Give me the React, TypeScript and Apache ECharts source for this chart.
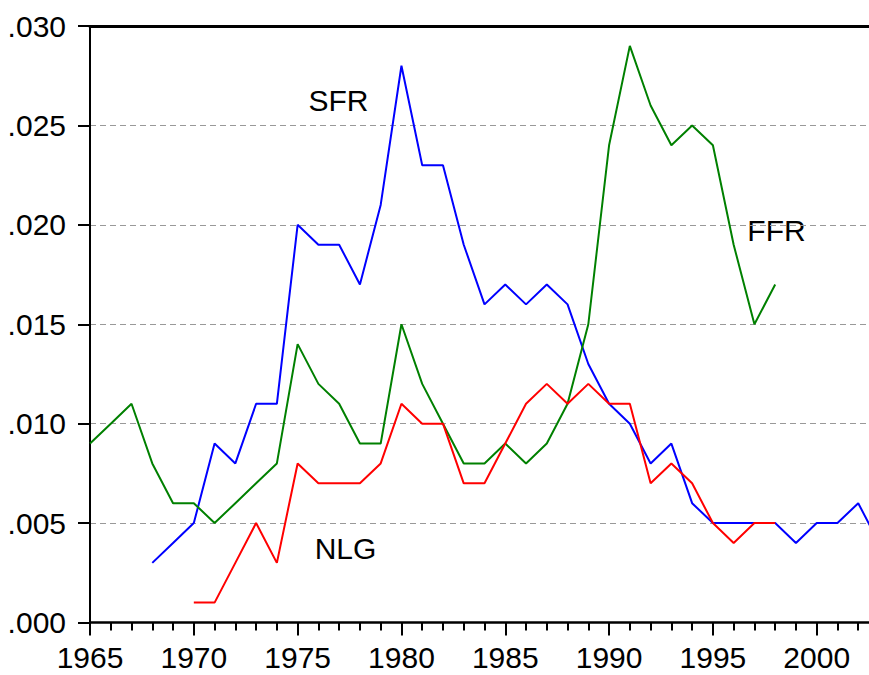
import React, { useEffect, useRef } from "react";
import * as echarts from "echarts";

const sfrStart = 1968;
const sfrValues = [0.003, 0.004, 0.005, 0.009, 0.008, 0.011, 0.011, 0.020, 0.019, 0.019, 0.017, 0.021, 0.028, 0.023, 0.023, 0.019, 0.016, 0.017, 0.016, 0.017, 0.016, 0.013, 0.011, 0.010, 0.008, 0.009, 0.006, 0.005, 0.005, 0.005, 0.005, 0.004, 0.005, 0.005, 0.006, 0.004];
const ffrStart = 1965;
const ffrValues = [0.009, 0.010, 0.011, 0.008, 0.006, 0.006, 0.005, 0.006, 0.007, 0.008, 0.014, 0.012, 0.011, 0.009, 0.009, 0.015, 0.012, 0.010, 0.008, 0.008, 0.009, 0.008, 0.009, 0.011, 0.015, 0.024, 0.029, 0.026, 0.024, 0.025, 0.024, 0.019, 0.015, 0.017];
const nlgStart = 1970;
const nlgValues = [0.001, 0.001, 0.003, 0.005, 0.003, 0.008, 0.007, 0.007, 0.007, 0.008, 0.011, 0.010, 0.010, 0.007, 0.007, 0.009, 0.011, 0.012, 0.011, 0.012, 0.011, 0.011, 0.007, 0.008, 0.007, 0.005, 0.004, 0.005, 0.005];
const seriesNames = ["SFR", "FFR", "NLG"];

const FONT = "'Liberation Sans', Arial, sans-serif";

function toPairs(start: number, vals: number[]) {
  return vals.map((v, i) => [start + i, v]);
}

export default function App() {
  const ref = useRef<HTMLDivElement>(null);
  useEffect(() => {
    document.body.style.margin = "0";
    const chart = echarts.init(ref.current!, null, { renderer: "svg" });
    const lineSeries = (name: string, data: number[][], color: string) => ({
      name,
      type: "line",
      xAxisIndex: 0,
      yAxisIndex: 0,
      data,
      showSymbol: false,
      symbol: "none",
      clip: true,
      lineStyle: { color, width: 2 },
      itemStyle: { color },
    });
    chart.setOption({
      animation: false,
      backgroundColor: "#ffffff",
      grid: { left: 90, top: 26, right: 0, bottom: 52.5, containLabel: false },
      xAxis: [
        {
          type: "value",
          min: 1965,
          max: 2003,
          interval: 5,
          position: "bottom",
          axisLine: { show: true, lineStyle: { color: "#000", width: 2.5 } },
          axisTick: { show: true, length: 13, lineStyle: { color: "#000", width: 2 } },
          axisLabel: {
            show: true,
            showMaxLabel: false,
            margin: 20,
            color: "#000",
            fontSize: 30,
            fontFamily: FONT,
            formatter: (v: number) => String(v),
          },
          splitLine: { show: false },
        },
        {
          type: "value",
          min: 1965,
          max: 2003,
          interval: 1,
          position: "bottom",
          axisLine: { show: false },
          axisTick: { show: true, length: 8, lineStyle: { color: "#000", width: 2 } },
          axisLabel: { show: false },
          splitLine: { show: false },
        },
        {
          type: "value",
          min: 1965,
          max: 2003,
          position: "top",
          axisLine: { show: true, lineStyle: { color: "#000", width: 3 } },
          axisTick: { show: false },
          axisLabel: { show: false },
          splitLine: { show: false },
        },
      ],
      yAxis: {
        type: "value",
        min: 0,
        max: 0.03,
        interval: 0.005,
        axisLine: { show: true, lineStyle: { color: "#000", width: 2 } },
        axisTick: { show: true, length: 12, lineStyle: { color: "#000", width: 2 } },
        axisLabel: {
          margin: 24,
          color: "#000",
          fontSize: 30,
          fontFamily: FONT,
          padding: [0, 0, 12, 0],
          formatter: (v: number) => v.toFixed(3).replace(/^0/, ""),
        },
        splitLine: { show: true, lineStyle: { color: "#999", width: 1, type: [6, 4] } },
      },
      series: [
        lineSeries(seriesNames[0], toPairs(sfrStart, sfrValues), "#0000ff"),
        lineSeries(seriesNames[1], toPairs(ffrStart, ffrValues), "#008000"),
        lineSeries(seriesNames[2], toPairs(nlgStart, nlgValues), "#ff0000"),
      ],
      graphic: [
        { type: "text", x: 338.5, y: 100, style: { text: seriesNames[0], fill: "#000", font: `30px ${FONT}`, align: "center", verticalAlign: "middle" } },
        { type: "text", x: 776.5, y: 230.5, style: { text: seriesNames[1], fill: "#000", font: `30px ${FONT}`, align: "center", verticalAlign: "middle" } },
        { type: "text", x: 345.5, y: 548.5, style: { text: seriesNames[2], fill: "#000", font: `30px ${FONT}`, align: "center", verticalAlign: "middle" } },
      ],
    });
    return () => chart.dispose();
  }, []);
  return (
    <div style={{ width: 869, height: 675, overflow: "hidden" }}>
      <div ref={ref} style={{ width: 879, height: 675 }} />
    </div>
  );
}
